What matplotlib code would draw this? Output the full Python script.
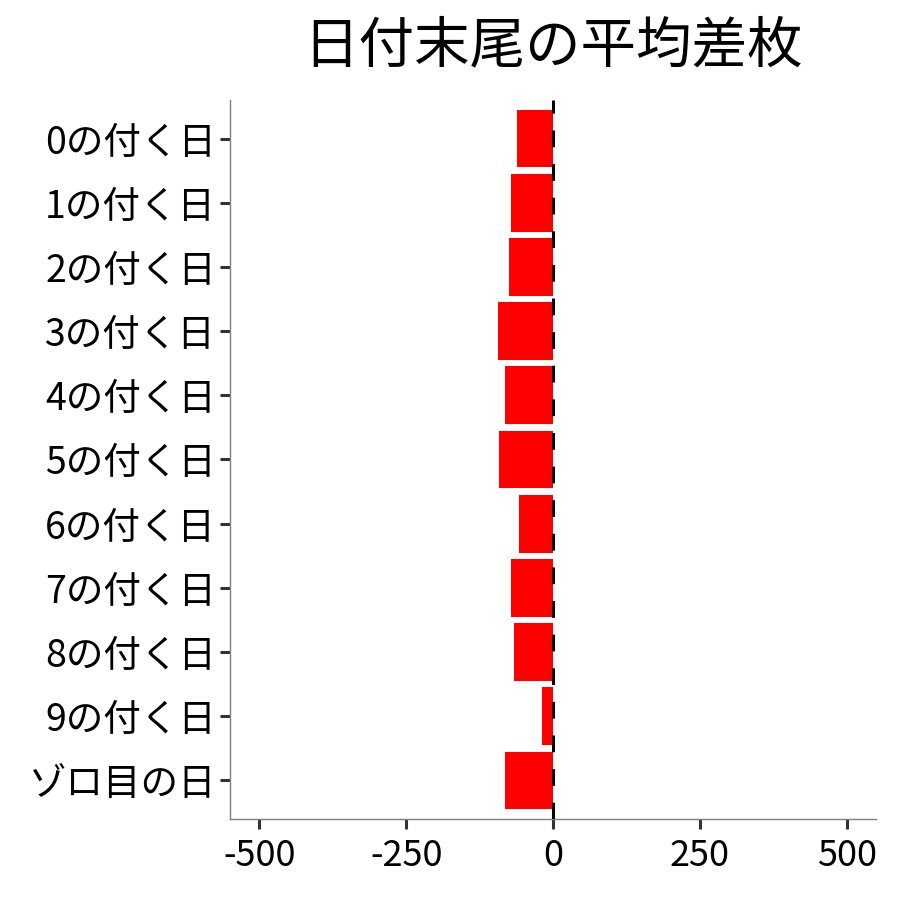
import matplotlib
matplotlib.use("Agg")
import matplotlib.pyplot as plt
import numpy as np

plt.rcParams['font.family'] = ['Noto Sans CJK JP', 'DejaVu Sans']

# data
categories = ['0の付く日', '1の付く日', '2の付く日', '3の付く日', '4の付く日',
              '5の付く日', '6の付く日', '7の付く日', '8の付く日', '9の付く日', 'ゾロ目の日']
values = [-61, -71, -75, -94, -82, -92, -58, -71, -66, -19, -82]
xticks = [-500, -250, 0, 250, 500]

fig = plt.figure(figsize=(9, 9), dpi=100)
ax = fig.add_axes([230/900, 1 - 819/900, (876-230)/900, (819-100)/900])

y = np.arange(len(categories))
ax.barh(y, values, height=0.9, color='#ff0000', zorder=2)
ax.axvline(0, color='black', lw=2.2, dashes=(5.5, 5.5), zorder=3)

ax.set_yticks(y)
ax.set_yticklabels(categories, fontsize=27)
ax.set_xticks(xticks)
ax.set_xticklabels([str(v) for v in xticks], fontsize=26)
ax.set_xlim(-550, 550)
ax.set_ylim(len(categories) - 0.4, -0.6)

for s in ['top', 'right']:
    ax.spines[s].set_visible(False)
for s in ['left', 'bottom']:
    ax.spines[s].set_color('#7f7f7f')
    ax.spines[s].set_linewidth(1.0)
ax.tick_params(axis='both', colors='#333333', width=2.2, length=7, labelcolor='black', pad=3)
ax.tick_params(axis='x', pad=7)

ax.set_title('日付末尾の平均差枚', fontsize=40, pad=27)

fig.savefig('out.png', dpi=100)
